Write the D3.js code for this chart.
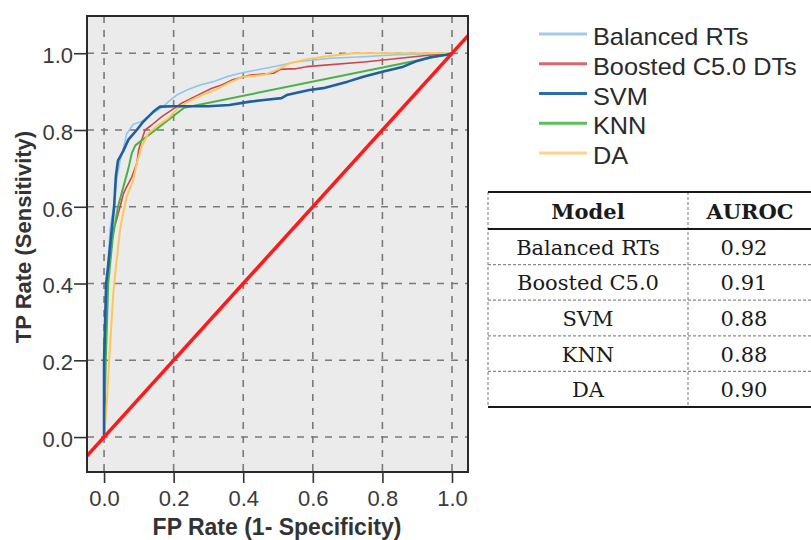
<!DOCTYPE html>
<html>
<head>
<meta charset="utf-8">
<script src="https://cdn.jsdelivr.net/npm/d3@7"></script>
<style>
  body { margin: 0; background: #fff; }
  svg { display: block; }
</style>
</head>
<body>
<div id="chart"></div>
<script>
// series names and ROC points [FP rate, TP rate]
const models = ['Balanced RTs', 'Boosted C5.0 DTs', 'SVM', 'KNN', 'DA'];
const tableModels = ['Balanced RTs', 'Boosted C5.0', 'SVM', 'KNN', 'DA'];
const aurocValues = ['0.92', '0.91', '0.88', '0.88', '0.90'];
const ticks = [0, 0.2, 0.4, 0.6, 0.8, 1.0];

const balancedRT = [[0,0],[0.003,0.2],[0.008,0.4],[0.017,0.54],[0.027,0.6],[0.036,0.67],[0.046,0.72],[0.055,0.75],
  [0.065,0.79],[0.084,0.815],[0.108,0.822],[0.132,0.839],[0.17,0.861],[0.19,0.878],[0.209,0.891],[0.238,0.904],
  [0.276,0.917],[0.314,0.926],[0.353,0.939],[0.391,0.948],[0.43,0.955],[0.487,0.965],[0.554,0.978],[0.65,0.987],
  [0.745,0.991],[0.84,0.996],[0.937,0.998],[1,1]];
const boosted = [[0,0],[0.002,0.1],[0.003,0.26],[0.008,0.41],[0.022,0.5],[0.027,0.54],[0.036,0.566],[0.046,0.6],
  [0.056,0.635],[0.065,0.652],[0.08,0.678],[0.094,0.713],[0.1,0.75],[0.108,0.774],[0.118,0.8],[0.137,0.813],
  [0.166,0.835],[0.194,0.852],[0.223,0.87],[0.252,0.883],[0.281,0.896],[0.31,0.909],[0.338,0.917],[0.367,0.93],
  [0.42,0.943],[0.487,0.948],[0.506,0.958],[0.554,0.96],[0.582,0.965],[0.755,0.978],[0.85,0.987],[0.946,0.996],[1,1]];
const svm = [[0,0],[0,0.2],[0.006,0.4],[0.011,0.44],[0.022,0.54],[0.029,0.6],[0.034,0.68],[0.04,0.72],[0.055,0.745],
  [0.07,0.775],[0.094,0.8],[0.113,0.822],[0.142,0.848],[0.161,0.861],[0.2,0.862],[0.3,0.862],[0.36,0.865],
  [0.42,0.874],[0.46,0.878],[0.51,0.883],[0.525,0.891],[0.59,0.904],[0.63,0.909],[0.7,0.926],[0.745,0.939],
  [0.8,0.952],[0.86,0.965],[0.9,0.98],[0.94,0.99],[0.985,0.996],[1,1]];
const knn = [[0,0],[0.005,0.2],[0.012,0.4],[0.025,0.52],[0.04,0.6],[0.055,0.65],[0.07,0.7],[0.08,0.74],[0.09,0.76],
  [0.23,0.858],[0.95,0.99],[1,1]];
const da = [[0,0],[0.005,0.05],[0.008,0.09],[0.017,0.235],[0.027,0.38],[0.035,0.45],[0.046,0.54],[0.055,0.583],
  [0.065,0.626],[0.084,0.67],[0.094,0.713],[0.108,0.757],[0.127,0.791],[0.156,0.813],[0.185,0.831],[0.213,0.857],
  [0.242,0.874],[0.281,0.891],[0.319,0.904],[0.357,0.922],[0.4,0.939],[0.458,0.943],[0.496,0.956],[0.534,0.974],
  [0.582,0.984],[0.63,0.991],[0.697,0.998],[0.72,1],[1,1]];

const seriesData = [balancedRT, boosted, svm, knn, da];
const lineColors = ['#92c5e8', '#c8474f', '#1d5fa0', '#4cb04a', '#fcc75a'];
const legendColors = ['#a6cbe8', '#d46a6f', '#2d6da8', '#5dbe5b', '#fdd48a'];
const lineWidths = [1.6, 1.6, 2.6, 2, 2];
const drawOrder = [0, 1, 3, 4, 2];

const W = 811, H = 540;
const frame = { left: 87, right: 468, top: 16, bottom: 472 };

const svg = d3.select('#chart').append('svg').attr('width', W).attr('height', H)
  .style('font-family', '"Liberation Sans", Arial, sans-serif');

const x = d3.scaleLinear().domain([-0.049, 1.046]).range([frame.left, frame.right]);
const y = d3.scaleLinear().domain([-0.091, 1.097]).range([frame.bottom, frame.top]);

// panel background
svg.append('rect')
  .attr('x', frame.left).attr('y', frame.top)
  .attr('width', frame.right - frame.left).attr('height', frame.bottom - frame.top)
  .attr('fill', '#ebebeb');

// dashed grid
svg.append('g').selectAll('line').data(ticks).enter().append('line')
  .attr('x1', d => x(d)).attr('x2', d => x(d))
  .attr('y1', frame.top).attr('y2', frame.bottom)
  .attr('stroke', '#7a7a7a').attr('stroke-width', 1.6).attr('stroke-dasharray', '7,7');
svg.append('g').selectAll('line').data(ticks).enter().append('line')
  .attr('y1', d => y(d)).attr('y2', d => y(d))
  .attr('x1', frame.left).attr('x2', frame.right)
  .attr('stroke', '#7a7a7a').attr('stroke-width', 1.6).attr('stroke-dasharray', '7,7');

svg.append('clipPath').attr('id', 'clip').append('rect')
  .attr('x', frame.left).attr('y', frame.top)
  .attr('width', frame.right - frame.left).attr('height', frame.bottom - frame.top);

const plot = svg.append('g').attr('clip-path', 'url(#clip)');
const line = d3.line().x(d => x(d[0])).y(d => y(d[1]));

drawOrder.forEach(i => {
  plot.append('path').datum(seriesData[i])
    .attr('d', line).attr('fill', 'none')
    .attr('stroke', lineColors[i]).attr('stroke-width', lineWidths[i])
    .attr('stroke-linejoin', 'round');
});

// reference diagonal
const diag = [x.domain()[0], x.domain()[1]];
plot.append('path').datum(diag.map(v => [v, v]))
  .attr('d', line).attr('fill', 'none')
  .attr('stroke', '#ff1a1a').attr('stroke-width', 3.5);

// frame
svg.append('rect')
  .attr('x', frame.left).attr('y', frame.top)
  .attr('width', frame.right - frame.left).attr('height', frame.bottom - frame.top)
  .attr('fill', 'none').attr('stroke', '#2a2a2a').attr('stroke-width', 2);

// axes
const xAxis = svg.append('g').attr('transform', `translate(0,${frame.bottom})`)
  .call(d3.axisBottom(x).tickValues(ticks).tickFormat(d3.format('.1f')).tickSize(11).tickPadding(7));
const yAxis = svg.append('g').attr('transform', `translate(${frame.left},0)`)
  .call(d3.axisLeft(y).tickValues(ticks).tickFormat(d3.format('.1f')).tickSize(13).tickPadding(1));
[xAxis, yAxis].forEach(a => {
  a.select('.domain').remove();
  a.selectAll('.tick line').attr('stroke', '#333').attr('stroke-width', 1.6);
  a.selectAll('.tick text').attr('fill', '#3a3a3a').style('font-size', '22px')
    .style('font-family', '"Liberation Sans", Arial, sans-serif');
});
yAxis.selectAll('.tick text').attr('dy', '0.42em');

svg.append('text')
  .attr('x', 277).attr('y', 535).attr('text-anchor', 'middle')
  .style('font-size', '23px').style('font-weight', 'bold').attr('fill', '#333')
  .text('FP Rate (1- Specificity)');
svg.append('text')
  .attr('transform', 'translate(31,237) rotate(-90)').attr('text-anchor', 'middle')
  .style('font-size', '22px').style('font-weight', 'bold').attr('fill', '#333')
  .text('TP Rate (Sensitivity)');

// legend
const legend = svg.append('g');
const legY = d3.scaleLinear().domain([0, 4]).range([34, 153]);
models.forEach((m, i) => {
  legend.append('line')
    .attr('x1', 539).attr('x2', 587).attr('y1', legY(i)).attr('y2', legY(i))
    .attr('stroke', legendColors[i]).attr('stroke-width', 3);
  legend.append('text')
    .attr('transform', `translate(593,${legY(i) + 11}) scale(1.1,1)`)
    .style('font-size', '23px').attr('fill', '#2a2a2a')
    .text(m);
});

// AUROC table
const tbl = svg.append('g').style('font-family', '"DejaVu Serif", serif').attr('fill', '#1a1a1a');
const tLeft = 488, tRight = 811, tMid = 688, tTop = 192, tHead = 229, tBottom = 407;
const rowY = d3.scaleBand().domain(d3.range(tableModels.length)).range([tHead, tBottom]);
const col1 = (tLeft + tMid) / 2, col2 = 744;

tbl.append('text').attr('x', col1).attr('y', (tTop + tHead) / 2 + 8).attr('text-anchor', 'middle')
  .style('font-size', '21px').style('font-weight', 'bold').text('Model');
tbl.append('text').attr('x', col2 + 6).attr('y', (tTop + tHead) / 2 + 8).attr('text-anchor', 'middle')
  .style('font-size', '21px').style('font-weight', 'bold').text('AUROC');

tableModels.forEach((m, i) => {
  const cy = rowY(i) + rowY.bandwidth() / 2;
  tbl.append('text').attr('x', col1).attr('y', cy + 8).attr('text-anchor', 'middle')
    .style('font-size', '21px').text(m);
  tbl.append('text').attr('x', col2).attr('y', cy + 8).attr('text-anchor', 'middle')
    .style('font-size', '21px').text(aurocValues[i]);
  if (i > 0) {
    tbl.append('line').attr('x1', tLeft).attr('x2', tRight).attr('y1', rowY(i)).attr('y2', rowY(i))
      .attr('stroke', '#8a8a8a').attr('stroke-width', 1.2).attr('stroke-dasharray', '3,2');
  }
});
[tLeft, tMid].forEach(vx => {
  tbl.append('line').attr('x1', vx).attr('x2', vx).attr('y1', tTop).attr('y2', tBottom)
    .attr('stroke', '#8a8a8a').attr('stroke-width', 1.2).attr('stroke-dasharray', '3,2');
});
[tTop, tHead, tBottom].forEach(hy => {
  tbl.append('line').attr('x1', tLeft).attr('x2', tRight).attr('y1', hy).attr('y2', hy)
    .attr('stroke', '#1a1a1a').attr('stroke-width', 2);
});
</script>
</body>
</html>
